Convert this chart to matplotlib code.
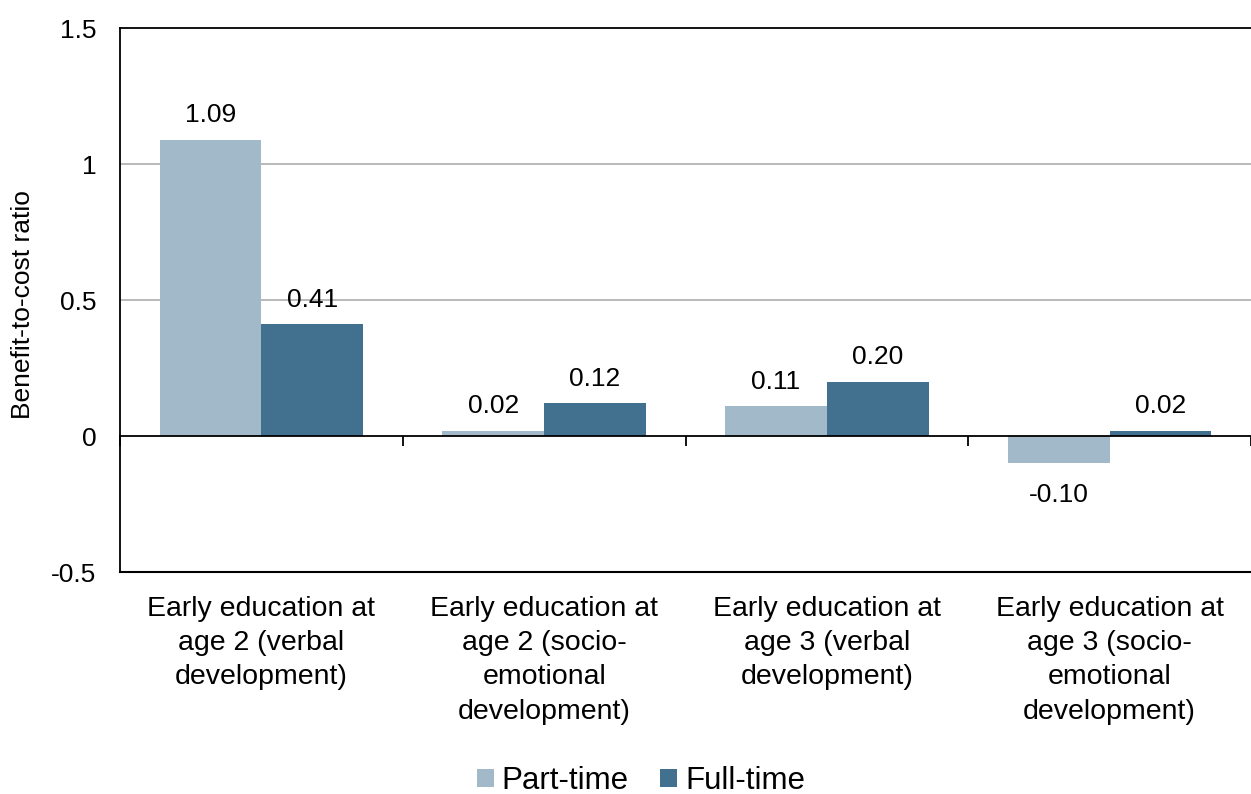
import matplotlib
matplotlib.use("Agg")
import matplotlib.pyplot as plt
import numpy as np

plt.rcParams['font.family'] = ['Liberation Sans', 'DejaVu Sans']

categories = [
    "Early education at\nage 2 (verbal\ndevelopment)",
    "Early education at\nage 2 (socio-\nemotional\ndevelopment)",
    "Early education at\nage 3 (verbal\ndevelopment)",
    "Early education at\nage 3 (socio-\nemotional\ndevelopment)",
]
series_names = ["Part-time", "Full-time"]
part_time = [1.09, 0.02, 0.11, -0.10]
full_time = [0.41, 0.12, 0.20, 0.02]
colors = ["#A2B9C9", "#41718F"]
y_ticks = [-0.5, 0, 0.5, 1, 1.5]
y_tick_labels = ["-0.5", "0", "0.5", "1", "1.5"]

fig = plt.figure(figsize=(12.51, 7.94), dpi=100)
ax = fig.add_axes([120 / 1251, 1 - 572 / 794, 1 - 120 / 1251, (572 - 28) / 794])

x = np.arange(len(categories))
w = 0.36
bars = []
for k, (vals, c) in enumerate(zip([part_time, full_time], colors)):
    off = (k - 0.5) * w
    b = ax.bar(x + off, vals, width=w, color=c, label=series_names[k], zorder=3)
    bars.append(b)
    for xi, v in zip(x + off, vals):
        if v >= 0:
            ax.annotate(f"{v:.2f}", (xi, v), xytext=(0, 9), textcoords="offset points",
                        ha="center", va="bottom", fontsize=19)
        else:
            ax.annotate(f"{v:.2f}", (xi, v), xytext=(0, -14), textcoords="offset points",
                        ha="center", va="top", fontsize=19)

ax.set_xlim(-0.5, len(categories) - 0.5)
ax.set_ylim(-0.5, 1.5)
ax.set_yticks(y_ticks)
ax.set_yticklabels(y_tick_labels, fontsize=19)
ax.tick_params(axis='y', length=0, pad=17)

# gridlines
for gy in [0.5, 1.0]:
    ax.axhline(gy, color="#A6A6A6", lw=1.1, zorder=1)

# category axis sits at zero
ax.spines['bottom'].set_position(('data', 0))
ax.spines['bottom'].set_linewidth(1.3)
ax.spines['bottom'].set_zorder(4)
ax.spines['right'].set_visible(False)
ax.spines['left'].set_linewidth(1.3)
ax.spines['top'].set_linewidth(1.3)
ax.set_xticks(np.arange(-0.5, len(categories) - 0.4, 1.0))
ax.set_xticklabels([])
ax.tick_params(axis='x', direction='out', length=7, width=1.3)
ax.axhline(-0.5, color="black", lw=1.5, clip_on=False, zorder=4)

for xi, lab in zip(x, categories):
    ax.annotate(lab, (xi, -0.5), xytext=(0, -17), textcoords="offset points",
                ha="center", va="top", fontsize=20.5, linespacing=1.42,
                annotation_clip=False)

fig.text(23 / 1251, 1 - 305 / 794, "Benefit-to-cost ratio", rotation=90,
         ha="center", va="center", fontsize=19)

fig.legend(handles=bars, labels=series_names, loc="center",
           bbox_to_anchor=(641 / 1251, 1 - 781 / 794), ncol=2, frameon=False,
           fontsize=22.5, handlelength=0.55, handleheight=0.55, handletextpad=0.25,
           columnspacing=1.0)

fig.savefig("out.png", dpi=100)
